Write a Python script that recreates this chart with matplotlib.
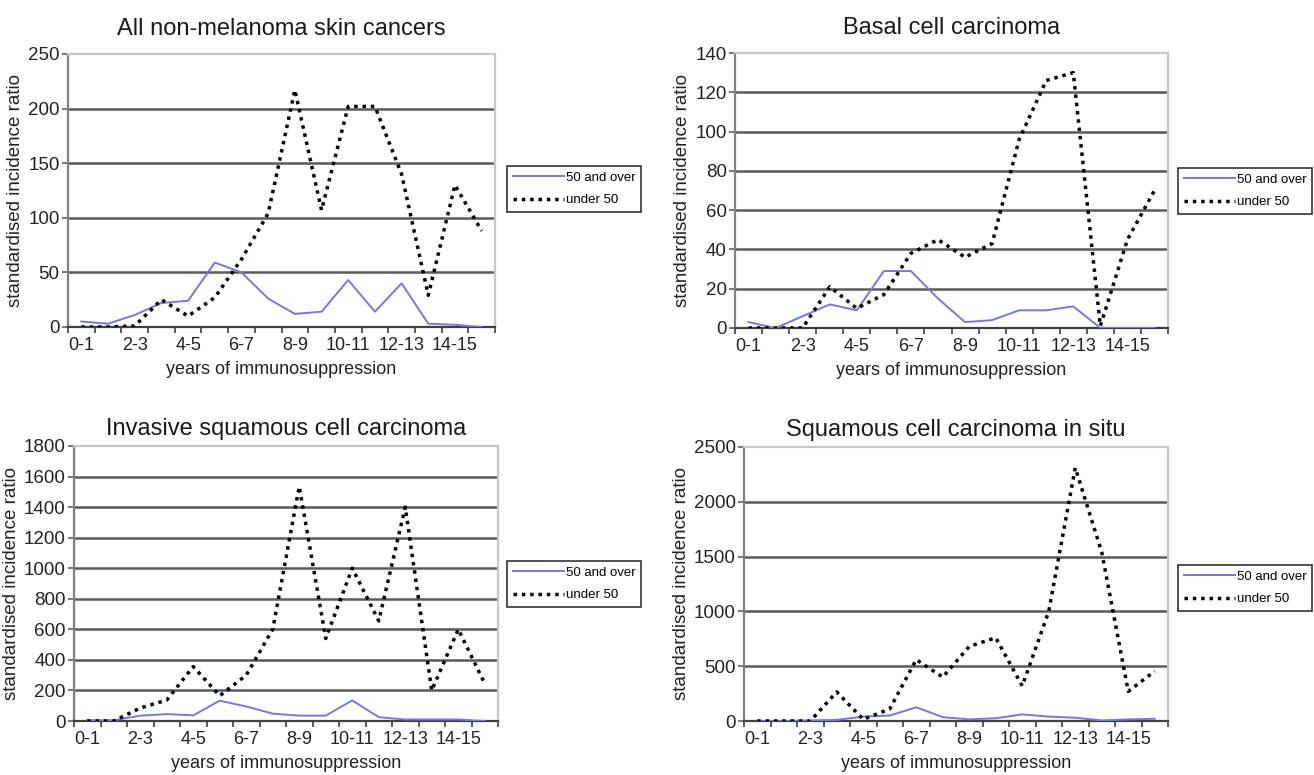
import matplotlib
matplotlib.use("Agg")
import matplotlib.pyplot as plt
from matplotlib.ticker import MultipleLocator, FixedLocator

plt.rcParams['font.family'] = ['Liberation Sans', 'DejaVu Sans']

# ---- data ----
categories = [f"{i}-{i+1}" for i in range(16)]

nmsc_over = [5, 3, 11, 22, 24, 59, 50, 26, 12, 14, 43, 14, 40, 3, 2, 0]
nmsc_under = [0, 0, 1, 25, 10, 27, 62, 104, 217, 107, 202, 202, 140, 29, 130, 88]

bcc_over = [3, 0, 6, 12, 9, 29, 29, 15, 3, 4, 9, 9, 11, 0, 0, 0]
bcc_under = [0, 0, 0, 21, 10, 17, 38, 45, 36, 43, 96, 126, 130, 1, 45, 70]

iscc_over = [5, 5, 35, 45, 37, 133, 95, 48, 35, 35, 135, 25, 10, 10, 10, 0]
iscc_under = [0, 0, 85, 137, 356, 165, 300, 600, 1535, 540, 1000, 655, 1400, 200, 600, 245]

scis_over = [0, 0, 5, 10, 40, 50, 125, 35, 15, 25, 60, 40, 30, 5, 15, 20]
scis_under = [0, 0, 0, 265, 15, 110, 560, 400, 680, 760, 320, 1000, 2310, 1540, 270, 455]

titles = ["All non-melanoma skin cancers", "Basal cell carcinoma",
          "Invasive squamous cell carcinoma", "Squamous cell carcinoma in situ"]
series_labels = ["50 and over", "under 50"]
xlabel = "years of immunosuppression"
ylabel = "standardised incidence ratio"
ymax = [250, 140, 1800, 2500]
ystep = [50, 20, 200, 500]

W, H = 1314, 775
fig = plt.figure(figsize=(W / 100, H / 100), dpi=100)
fig.patch.set_facecolor('white')

# axes boxes in pixels: left, right, top, bottom
boxes = [(68, 495, 54, 327), (735, 1168, 53, 328),
         (74, 498, 446, 721), (744, 1168, 447, 721)]
legend_pos = [(507, 189), (1178, 191), (507, 584), (1178, 588)]
title_pad = [14, 14, 8, 8]

data = [(nmsc_over, nmsc_under), (bcc_over, bcc_under),
        (iscc_over, iscc_under), (scis_over, scis_under)]

blue = '#7878dc'
x = list(range(len(categories)))

for k in range(4):
    l, r, t, b = boxes[k]
    ax = fig.add_axes([l / W, 1 - b / H, (r - l) / W, (b - t) / H])
    over, under = data[k]
    ax.plot(x, over, color=blue, lw=1.4, label=series_labels[0], zorder=3)
    ax.plot(x, under, color='black', lw=2.5, linestyle=(0, (1.0, 1.4)),
            label=series_labels[1], zorder=4)
    ax.set_xlim(-0.5, len(categories) - 0.5)
    ax.set_ylim(0, ymax[k])
    ax.yaxis.set_major_locator(MultipleLocator(ystep[k]))
    for v in range(ystep[k], ymax[k], ystep[k]):
        ax.axhline(v, color='#5a5a5a', lw=1.8, zorder=1)
    # x ticks: boundaries (marks) and labels every other category
    ax.xaxis.set_major_locator(FixedLocator([i - 0.5 for i in range(len(categories) + 1)]))
    ax.xaxis.set_major_formatter(plt.NullFormatter())
    ax.xaxis.set_minor_locator(FixedLocator([i for i in x if i % 2 == 0]))
    ax.set_xticklabels([categories[i] for i in x if i % 2 == 0], minor=True)
    ax.tick_params(axis='x', which='major', direction='out', length=4, width=1.2, color='#404040')
    ax.tick_params(axis='x', which='minor', length=0, pad=7, labelsize=13, labelcolor='#222222')
    ax.tick_params(axis='y', direction='out', length=4, width=1.2, color='#606060',
                   labelsize=13.5, labelcolor='#222222', pad=2)
    for s in ['top', 'right']:
        ax.spines[s].set_color('#c8c8c8')
        ax.spines[s].set_linewidth(1.6)
    ax.spines['left'].set_color('#808080')
    ax.spines['left'].set_linewidth(1.6)
    ax.spines['bottom'].set_color('#404040')
    ax.spines['bottom'].set_linewidth(1.6)
    ax.set_title(titles[k], fontsize=17, pad=title_pad[k], color='#1a1a1a')
    ax.set_xlabel(xlabel, fontsize=13, labelpad=5, color='#222222')
    ax.set_ylabel(ylabel, fontsize=13.5, labelpad=3, color='#222222')
    lx, ly = legend_pos[k]
    leg = ax.legend(loc='center left', bbox_to_anchor=(lx / W, 1 - ly / H),
                    bbox_transform=fig.transFigure, frameon=True, fancybox=False,
                    framealpha=1, edgecolor='#333333', fontsize=9.5, handlelength=3.9,
                    handletextpad=0.1, borderpad=0.45, labelspacing=0.75, borderaxespad=0)
    leg.get_frame().set_linewidth(1.2)

fig.savefig('out.png', dpi=100, facecolor='white')
